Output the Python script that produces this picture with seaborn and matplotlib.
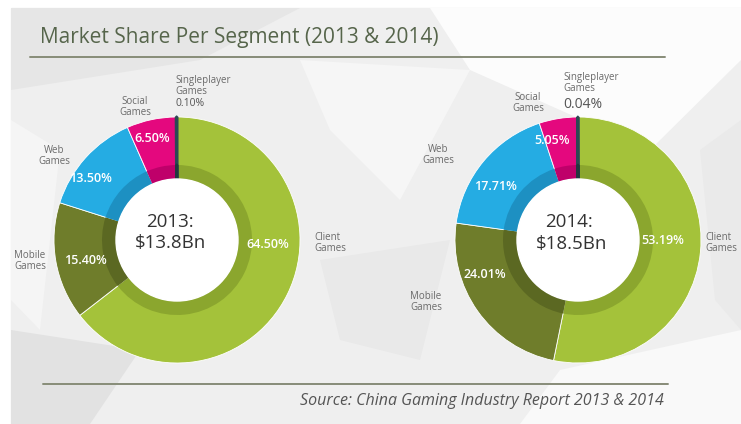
import matplotlib.pyplot as plt
import seaborn as sns
from matplotlib.patches import Polygon, Circle, Rectangle

# data
segments = ['Client\nGames', 'Mobile\nGames', 'Web\nGames', 'Social\nGames', 'Singleplayer\nGames']
share_2013 = [64.50, 15.40, 13.50, 6.50, 0.10]
share_2014 = [53.19, 24.01, 17.71, 5.05, 0.04]
years = ['2013', '2014']
totals = ['$13.8Bn', '$18.5Bn']

W, H = 741, 424

sns.set_theme(style='white')
plt.rcParams['font.family'] = ['Open Sans', 'DejaVu Sans']

ring_colors = sns.color_palette(['#a4c23a', '#6f7d2b', '#25ace3', '#e4087e', '#2c4854'])
band_colors = sns.color_palette(['#8ba62e', '#5b6822', '#1d90c2', '#bf006a', '#22383f'])

# layout of each donut (pixel coords, origin top-left)
layouts = [
    dict(center=(177, 240),
         pct=[(268, 245), (85, 261), (90, 178), (152, 138)],
         names=[(314, 243, 'left'), (30, 261, 'center'), (54, 156, 'center'), (135, 107, 'center')],
         single=(175, 86), single_pct=(175, 104, 7.5),
         head=(170, 222), total=(170, 243)),
    dict(center=(578, 240),
         pct=[(663, 241), (485, 274), (495, 186), (552, 141)],
         names=[(705, 243, 'left'), (426, 302, 'center'), (438, 155, 'center'), (528, 103, 'center')],
         single=(563, 83), single_pct=(563, 105, 10),
         head=(569, 222), total=(572, 244)),
]

R_OUT, R_BAND, R_HOLE = 123, 75, 61


def up(y):
    return H - y


def draw_background(ax):
    ax.add_patch(Rectangle((11, 0), W - 11, H - 8, color='#efefef', zorder=0))
    shapes = [
        ([(11, up(8)), (300, up(8)), (200, up(60)), (11, up(90))], '#e6e6e6'),
        ([(430, up(8)), (741, up(8)), (741, up(60)), (650, up(150)), (470, up(70))], '#fcfcfc'),
        ([(300, up(60)), (470, up(70)), (400, up(200)), (330, up(130))], '#f6f6f6'),
        ([(11, up(120)), (60, up(150)), (40, up(330)), (11, up(300))], '#f5f5f5'),
        ([(11, up(330)), (140, up(350)), (90, up(424)), (11, up(424))], '#e2e2e2'),
        ([(560, up(370)), (741, up(330)), (741, up(424)), (520, up(424))], '#f9f9f9'),
        ([(320, up(260)), (450, up(240)), (420, up(360)), (340, up(340))], '#e9e9e9'),
        ([(700, up(150)), (741, up(120)), (741, up(330)), (715, up(300))], '#eaeaea'),
    ]
    for pts, col in shapes:
        ax.add_patch(Polygon(pts, closed=True, color=col, lw=0, zorder=0))


def draw_donut(ax, values, lay, year, total):
    cx, cy = lay['center']
    c = (cx, up(cy))
    outer, _ = ax.pie(values, colors=ring_colors, radius=R_OUT, center=c, startangle=90,
                      counterclock=False, frame=True,
                      wedgeprops=dict(width=R_OUT - R_HOLE, edgecolor='white', linewidth=0.6))
    band, _ = ax.pie(values, colors=band_colors, radius=R_BAND, center=c, startangle=90,
                     counterclock=False, frame=True,
                     wedgeprops=dict(width=R_BAND - R_HOLE, linewidth=0))
    # make the tiny singleplayer slice visible
    for w, col in ((outer[-1], ring_colors[-1]), (band[-1], band_colors[-1])):
        w.set_edgecolor(col)
        w.set_linewidth(2.2)
        w.set_joinstyle('bevel')
        w.set_zorder(2)
    ax.add_patch(Circle(c, R_HOLE, color='white', zorder=3))

    for (x, y), v in zip(lay['pct'], values[:4]):
        ax.text(x, up(y), f'{v:.2f}%', color='white', fontsize=9, fontweight='semibold',
                ha='center', va='center', zorder=4)
    for (x, y, ha), name in zip(lay['names'], segments[:4]):
        ax.text(x, up(y), name, color='#6a6a6a', fontsize=7, ha=ha, va='center',
                linespacing=1.1, zorder=4)
    sx, sy = lay['single']
    ax.text(sx, up(sy), segments[4], color='#6a6a6a', fontsize=7, ha='left', va='center',
            linespacing=1.0, zorder=4)
    px, py, fs = lay['single_pct']
    ax.text(px, up(py), f'{values[4]:.2f}%', color='#555555', fontsize=fs, ha='left',
            va='center', zorder=4)

    hx, hy = lay['head']
    ax.text(hx, up(hy), f'{year}:', color='#333333', fontsize=13.5, ha='center', va='center', zorder=4)
    tx, ty = lay['total']
    ax.text(tx, up(ty), total, color='#333333', fontsize=13.5, ha='center', va='center', zorder=4)


fig = plt.figure(figsize=(W / 100, H / 100), dpi=100)
fig.patch.set_facecolor('white')
ax = fig.add_axes([0, 0, 1, 1])

draw_background(ax)
for vals, lay, yr, tot in zip([share_2013, share_2014], layouts, years, totals):
    draw_donut(ax, vals, lay, yr, tot)

ax.text(40, up(43), 'Market Share Per Segment (2013 & 2014)', color='#56654b', fontsize=15,
        ha='left', va='baseline', zorder=4)
ax.plot([30, 665], [up(57), up(57)], color='#878c78', lw=1.4, zorder=4)
ax.plot([43, 668], [up(384), up(384)], color='#878c78', lw=1.4, zorder=4)
ax.text(300, up(405), 'Source: China Gaming Industry Report 2013 & 2014', color='#555555',
        fontsize=11.5, style='italic', ha='left', va='baseline', zorder=4)

ax.set_xlim(0, W)
ax.set_ylim(0, H)
ax.set_aspect('equal')
ax.set_axis_off()

fig.savefig('out.png', dpi=100, facecolor=fig.get_facecolor())
